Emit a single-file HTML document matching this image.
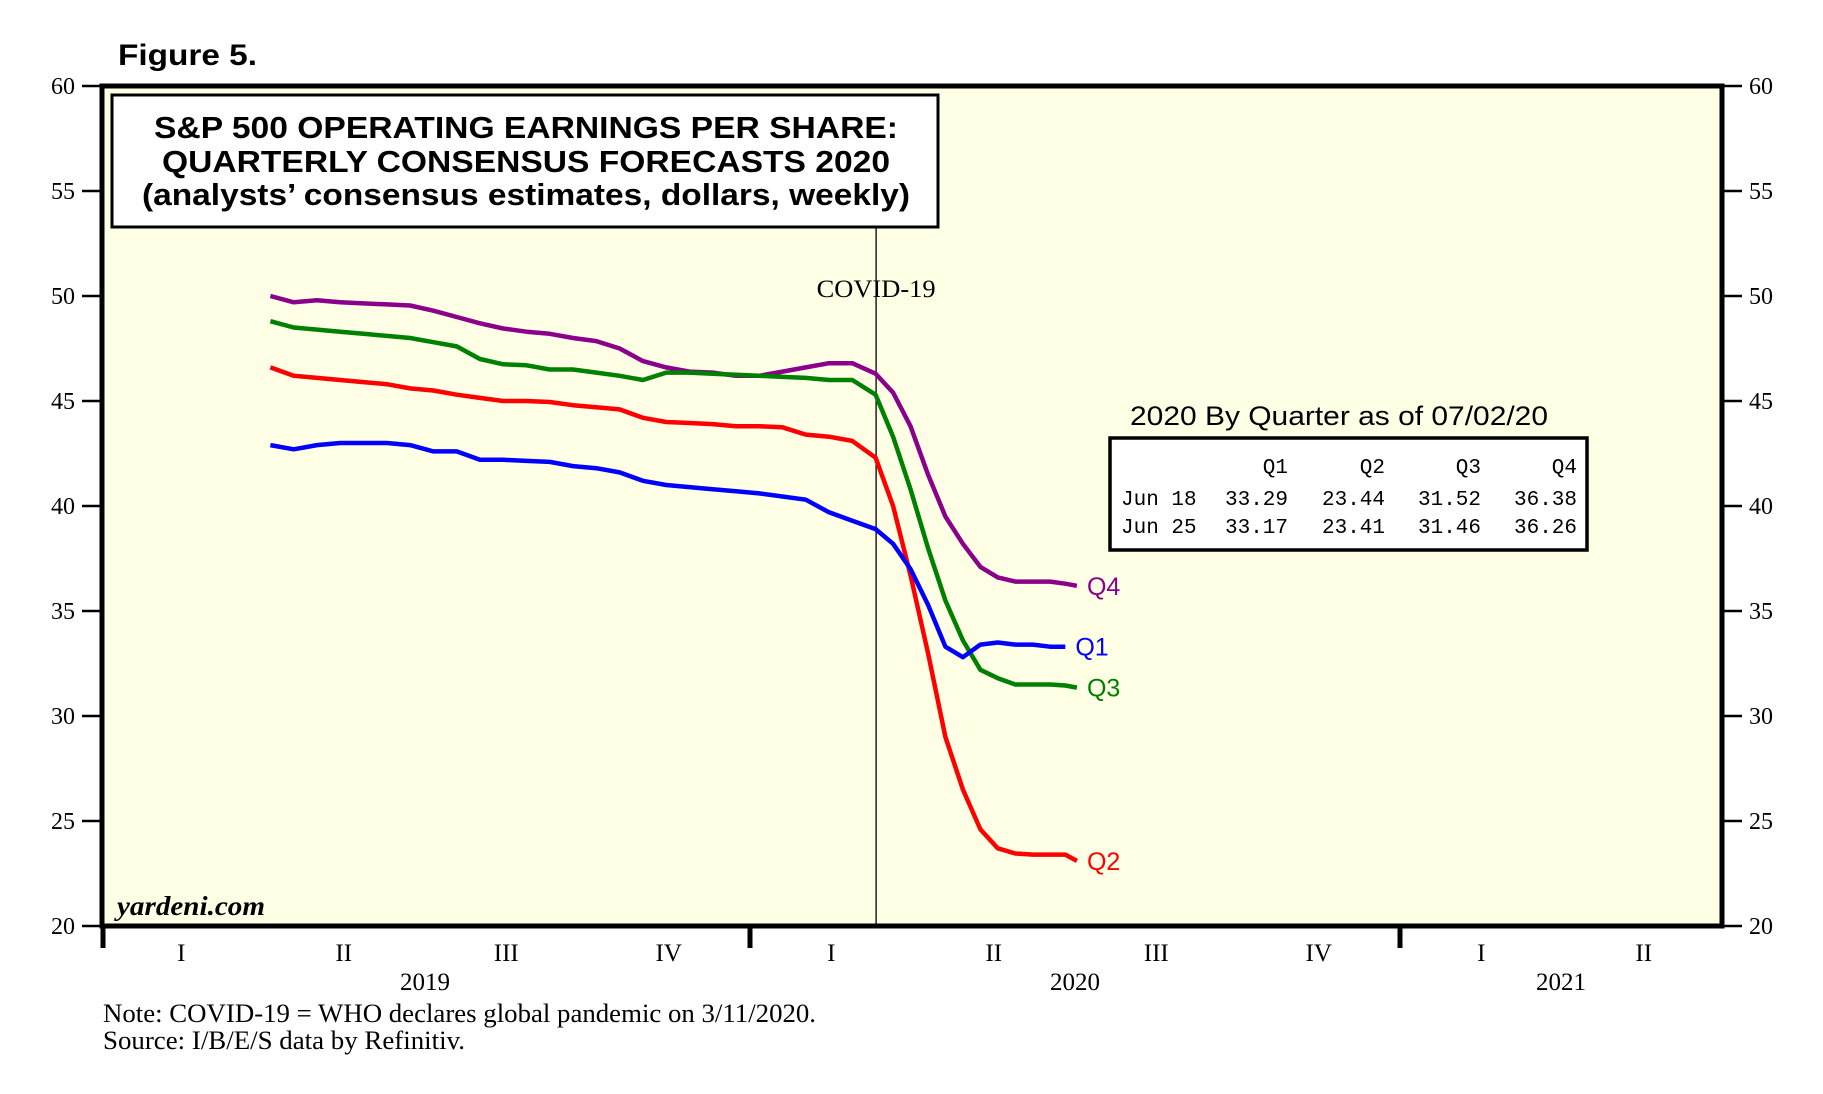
<!DOCTYPE html>
<html><head><meta charset="utf-8"><style>
html,body{margin:0;padding:0;background:#fff;}
svg{display:block;}
</style></head><body>
<svg id="chart" width="1823" height="1094" viewBox="0 0 1823 1094" xmlns="http://www.w3.org/2000/svg">
  <text x="118" y="65" font-family="Liberation Sans, sans-serif" font-size="30" font-weight="bold" textLength="139" lengthAdjust="spacingAndGlyphs">Figure 5.</text>
  <rect x="102" y="86" width="1620" height="840" fill="#FFFFE6"/>
  <g id="yticks"></g>
  <g id="xaxis"></g>
  <line id="covid-line" stroke="#000" stroke-width="1.3"/>
  <text id="covid-label" font-family="Liberation Serif, serif" font-size="25" text-anchor="middle" textLength="119" lengthAdjust="spacingAndGlyphs">COVID-19</text>
  <g id="series"></g>
  <rect x="102" y="86" width="1620" height="840" fill="none" stroke="#000" stroke-width="5"/>
  <g>
    <rect x="112" y="95" width="826" height="132" fill="#fff" stroke="#000" stroke-width="3"/>
    <text x="526" y="138" font-family="Liberation Sans, sans-serif" font-size="31" font-weight="bold" text-anchor="middle" textLength="744" lengthAdjust="spacingAndGlyphs">S&amp;P 500 OPERATING EARNINGS PER SHARE:</text>
    <text x="526" y="172" font-family="Liberation Sans, sans-serif" font-size="31" font-weight="bold" text-anchor="middle" textLength="728" lengthAdjust="spacingAndGlyphs">QUARTERLY CONSENSUS FORECASTS 2020</text>
    <text x="526" y="205" font-family="Liberation Sans, sans-serif" font-size="31" font-weight="bold" text-anchor="middle" textLength="768" lengthAdjust="spacingAndGlyphs">(analysts’ consensus estimates, dollars, weekly)</text>
  </g>
  <g>
    <text x="1130" y="425" font-family="Liberation Sans, sans-serif" font-size="27" textLength="418" lengthAdjust="spacingAndGlyphs">2020 By Quarter as of 07/02/20</text>
    <rect x="1110" y="438" width="477" height="112" fill="#fff" stroke="#000" stroke-width="3.5"/>
    <g font-family="Liberation Mono, monospace" font-size="21" text-anchor="end">
      <text x="1288" y="473">Q1</text>
      <text x="1385" y="473">Q2</text>
      <text x="1481" y="473">Q3</text>
      <text x="1577" y="473">Q4</text>
      <text x="1121" y="505" text-anchor="start">Jun 18</text>
      <text x="1288" y="505">33.29</text>
      <text x="1385" y="505">23.44</text>
      <text x="1481" y="505">31.52</text>
      <text x="1577" y="505">36.38</text>
      <text x="1121" y="533" text-anchor="start">Jun 25</text>
      <text x="1288" y="533">33.17</text>
      <text x="1385" y="533">23.41</text>
      <text x="1481" y="533">31.46</text>
      <text x="1577" y="533">36.26</text>
    </g>
  </g>
  <text x="117" y="915" font-family="Liberation Serif, serif" font-size="27" font-style="italic" font-weight="bold" textLength="148" lengthAdjust="spacingAndGlyphs">yardeni.com</text>
  <text x="103" y="1022" font-family="Liberation Serif, serif" font-size="26" textLength="713" lengthAdjust="spacingAndGlyphs">Note: COVID-19 = WHO declares global pandemic on 3/11/2020.</text>
  <text x="103" y="1049" font-family="Liberation Serif, serif" font-size="26" textLength="362" lengthAdjust="spacingAndGlyphs">Source: I/B/E/S data by Refinitiv.</text>
</svg>
<script>
const dates = [2019.2622,2019.2980,2019.3338,2019.3696,2019.4054,2019.4413,2019.4771,2019.5129,2019.5487,2019.5845,2019.6203,2019.6561,2019.6919,2019.7277,2019.7635,2019.7994,2019.8352,2019.8710,2019.9068,2019.9426,2019.9784,2020.0142,2020.0500,2020.0858,2020.1216,2020.1574,2020.1932,2020.2201,2020.2469,2020.2738,2020.3006,2020.3275,2020.3544,2020.3812,2020.4081,2020.4349,2020.4618,2020.4851,2020.5030];
const q4Values = [50.0,49.7,49.8,49.7,49.65,49.6,49.55,49.3,49.0,48.7,48.45,48.3,48.2,48.0,47.85,47.5,46.9,46.6,46.4,46.35,46.2,46.2,46.4,46.6,46.8,46.8,46.3,45.4,43.8,41.5,39.5,38.2,37.1,36.6,36.4,36.4,36.4,36.3,36.2];
const q1Values = [42.9,42.7,42.9,43.0,43.0,43.0,42.9,42.6,42.6,42.2,42.2,42.15,42.1,41.9,41.8,41.6,41.2,41.0,40.9,40.8,40.7,40.6,40.45,40.3,39.7,39.3,38.9,38.2,37.0,35.3,33.3,32.8,33.4,33.5,33.4,33.4,33.3,33.3,null];
const q3Values = [48.8,48.5,48.4,48.3,48.2,48.1,48.0,47.8,47.6,47.0,46.75,46.7,46.5,46.5,46.35,46.2,46.0,46.35,46.35,46.3,46.25,46.2,46.15,46.1,46.0,46.0,45.3,43.3,40.8,38.0,35.5,33.6,32.2,31.8,31.5,31.5,31.5,31.45,31.35];
const q2Values = [46.6,46.2,46.1,46.0,45.9,45.8,45.6,45.5,45.3,45.15,45.0,45.0,44.95,44.8,44.7,44.6,44.2,44.0,43.95,43.9,43.8,43.8,43.75,43.4,43.3,43.1,42.3,40.0,36.7,33.0,29.0,26.5,24.6,23.7,23.45,23.4,23.4,23.4,23.1];
const yTicks = [20,25,30,35,40,45,50,55,60];
const quarterLabels = ["I","II","III","IV","I","II","III","IV","I","II"];
const yearLabels = ["2019","2020","2021"];
const covidDate = 2020.194;

const NS = "http://www.w3.org/2000/svg";
const L = 102, R = 1722, T = 86, B = 926;
const X2020 = 750, YEAR_PX = 650;
const tMax = 2020 + (R - X2020) / YEAR_PX;
const yMin = 20, yMax = 60;
function xScale(t){ return X2020 + (t - 2020) * YEAR_PX; }
function yScale(v){ return B - (v - yMin) / (yMax - yMin) * (B - T); }
function mk(tag, attrs, parent){ const e = document.createElementNS(NS, tag); for (const k in attrs) e.setAttribute(k, attrs[k]); parent.appendChild(e); return e; }
const SERIF = "Liberation Serif, serif";

const yt = document.getElementById('yticks');
yTicks.forEach(v => {
  const y = yScale(v);
  const a = mk('line', {x1: 82, x2: 102, y1: y, y2: y, stroke: '#000', 'stroke-width': 2.5}, yt);
  
  
  const b = mk('line', {x1: 1722, x2: 1742, y1: y, y2: y, stroke: '#000', 'stroke-width': 2.5}, yt);
  
  
  const tl = mk('text', {x: 75, y: y + 8, 'text-anchor': 'end', 'font-size': 24, 'font-family': SERIF}, yt);
  tl.textContent = v;
  
  
  const tr = mk('text', {x: 1749, y: y + 8, 'text-anchor': 'start', 'font-size': 24, 'font-family': SERIF}, yt);
  tr.textContent = v;
  
  
});

const xa = document.getElementById('xaxis');
[2019, 2020, 2021].forEach(yr => {
  const x = Math.max(xScale(yr), L + 1);
  const ln = mk('line', {x1: x, x2: x, y1: 926, y2: 948, stroke: '#000', 'stroke-width': 5}, xa);
  
  
});
quarterLabels.forEach((q, i) => {
  const x = xScale(2019 + i * 0.25 + 0.125);
  const t = mk('text', {x: x, y: 961, 'text-anchor': 'middle', 'font-size': 25, 'font-family': SERIF}, xa);
  t.textContent = q;
  
  
});
yearLabels.forEach((yl, i) => {
  const t0 = 2019 + i;
  const t1 = Math.min(t0 + 1, tMax);
  const x = (xScale(t0) + xScale(t1)) / 2;
  const t = mk('text', {x: x, y: 990, 'text-anchor': 'middle', 'font-size': 25, 'font-family': SERIF}, xa);
  t.textContent = yl;
  
  
});

const cx = xScale(covidDate);
const cl = document.getElementById('covid-line');
cl.setAttribute('x1', cx); cl.setAttribute('x2', cx); cl.setAttribute('y1', 228); cl.setAttribute('y2', 926);
const ctl = document.getElementById('covid-label');
ctl.setAttribute('x', cx); ctl.setAttribute('y', 297);

const sg = document.getElementById('series');
const seriesList = [
  {vals: q4Values, color: '#8B008B', label: 'Q4', name: 'q4'},
  {vals: q3Values, color: '#008000', label: 'Q3', name: 'q3'},
  {vals: q2Values, color: '#FF0000', label: 'Q2', name: 'q2'},
  {vals: q1Values, color: '#0000FF', label: 'Q1', name: 'q1'}
];
seriesList.forEach(s => {
  let d = '', last = null;
  s.vals.forEach((v, i) => {
    if (v === null) return;
    const x = xScale(dates[i]), y = yScale(v);
    d += (d ? 'L' : 'M') + x.toFixed(1) + ',' + y.toFixed(1);
    last = [x, y];
  });
  const p = mk('path', {d: d, fill: 'none', stroke: s.color, 'stroke-width': 4.5, 'stroke-linejoin': 'round', 'stroke-linecap': 'butt'}, sg);
  
  
  const lb = mk('text', {x: last[0] + 10, y: last[1] + 9, fill: s.color, 'font-size': 25, 'font-family': 'Liberation Sans, sans-serif'}, sg);
  lb.textContent = s.label;
  
  
});
</script>
</body></html>
